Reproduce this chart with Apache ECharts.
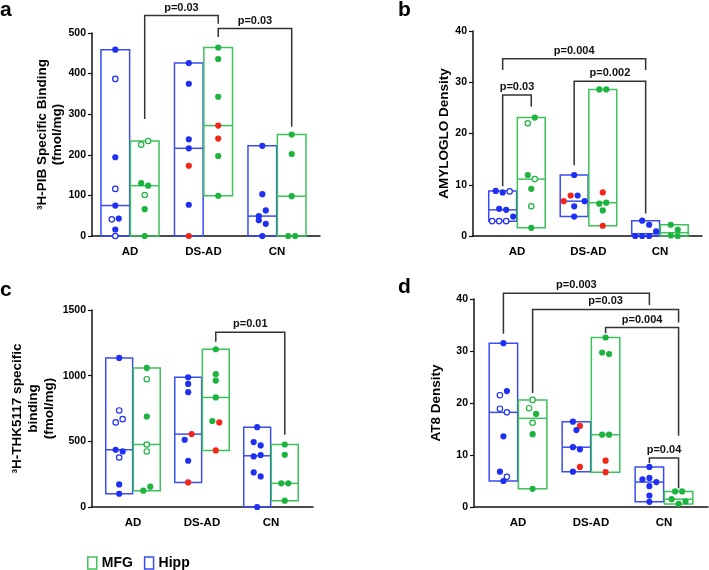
<!DOCTYPE html>
<html><head><meta charset="utf-8">
<script src="https://cdn.jsdelivr.net/npm/echarts@6/dist/echarts.min.js"></script>
<style>html,body{margin:0;padding:0;background:#fff}#c{width:709px;height:570px}</style>
</head><body><div id="c"></div><script>
// ---------- DATA ----------
const groups = ['AD', 'DS-AD', 'CN'];
// kinds: f = filled, o = open circle, r = red (filled)
// Panel a: 3H-PIB specific binding (fmol/mg)
const pibHipp = [[459,387,194,116,75,41,43,16,0],[426,375,238,216,173,77,0],[222,103,49,63,39,30,0]];
const pibHippKind = ['fofofoffo','ffffrfr','fffffff'];
const pibMfg = [[225,234,130,124,101,66,0],[464,436,343,272,240,197,99],[250,202,98,0,0]];
const pibMfgKind = ['ooffoff','fffrrff','fffff'];
// Panel b: AMYLOGLO density
const amyHipp = [[8.8,8.5,8.7,5.3,5.1,2.9,2.9,2.9,3.8],[11.9,6.8,7.9,7.9,6.8,5.8,3.8],[3.0,2.2,0,0,0,0.9]];
const amyHippKind = ['ffoffooof','frrffff','ffffff'];
const amyMfg = [[22.0,23.1,11.9,11.1,9.2,5.8,1.6],[28.6,28.6,8.5,6.3,6.5,5.0,2.0],[2.2,1.2,0.1,0]];
const amyMfgKind = ['offofof','ffrfffr','ffff'];
// Panel c: 3H-THK5117 specific binding (fmol/mg)
const thkHipp = [[1135,735,644,669,436,423,377,172,101],[988,937,874,512,555,352,187],[608,494,469,385,395,263,233,0]];
const thkHippKind = ['foooffoff','ffffrfr','ffffffff'];
const thkMfg = [[1059,973,689,476,423,124,155],[1201,1011,963,834,654,644,431],[476,398,180,180,48]];
const thkMfgKind = ['fofooff','fffffrr','fffff'];
// Panel d: AT8 density
const at8Hipp = [[31.5,21.5,22.3,18.9,18.2,13.6,6.8,5.8,5.0],[16.4,15.6,14.8,11.5,11.1,6.8,7.7],[7.7,5.3,5.6,4.8,4.0,2.2,1.0]];
const at8HippKind = ['fofooffof','frffffr','fffffff'];
const at8Mfg = [[20.6,19.0,17.9,16.2,14.0,3.5],[32.6,29.7,29.4,13.9,13.9,8.9,6.7],[3.0,3.0,1.5,0.6,1.1]];
const at8MfgKind = ['oofoff','fffffrr','fffff'];
// significance brackets: [group1, region1, group2, region2, level, leg1 end, leg2 end, label]
const pibBrackets = [[0,'MFG',1,'MFG',543,288,523,'p=0.03'],[1,'MFG',2,'MFG',511,490,269,'p=0.03']];
const amyBrackets = [[0,'Hipp',0,'MFG',27.5,9.7,25.2,'p=0.03'],[0,'Hipp',2,'Hipp',34.6,32.4,32.4,'p=0.004'],[1,'Hipp',2,'Hipp',30.2,13.8,4.4,'p=0.002']];
const thkBrackets = [[1,'MFG',2,'MFG',1330,1259,550,'p=0.01']];
const at8Brackets = [[0,'Hipp',2,'Hipp',41.1,33.3,38.8,'p=0.003'],[0,'MFG',2,'MFG',38.0,21.9,35.5,'p=0.03'],[1,'MFG',2,'MFG',34.5,33.4,13.7,'p=0.004'],[2,'Hipp',2,'MFG',9.4,8.45,3.6,'p=0.04']];
const yTicksMax = [500, 40, 1500, 40];
const yTicksStep = [100, 10, 500, 10];
const yNames = ['\u00B3H-PIB Specific Binding\n(fmol/mg)', 'AMYLOGLO Density', '\u00B3H-THK5117 specific\nbinding\n(fmol/mg)', 'AT8 Density'];
const letters = ['a','b','c','d'];
const legendNames = ['MFG','Hipp'];

// ---------- STYLE / LAYOUT ----------
const FONT = "'Liberation Sans', Arial, Helvetica, sans-serif";
const PT = {Hipp:'#1f30f2', MFG:'#1cb43e'};
const RED = '#f3261c';
const BOX = {Hipp:'#3a4df0', MFG:'#3cc25a'};
const OFF = {Hipp:-0.2, MFG:0.2};
const HALF = 0.195;
const R = 3.1;

const layout = [
  {grid:{left:92, top:33, width:228, height:203}, xr:[-0.517,2.585], nameGap:26, lh:15, letter:[0,0]},
  {grid:{left:473, top:31, width:229, height:205}, xr:[-0.615,2.588], nameGap:18, lh:15, letter:[398,0]},
  {grid:{left:92, top:310, width:221, height:197}, xr:[-0.594,2.609], nameGap:35, lh:16, letter:[0,280]},
  {grid:{left:474, top:299, width:234, height:208}, xr:[-0.603,2.603], nameGap:30, lh:15, letter:[398,277]}
];
const panelData = [
  {Hipp:[pibHipp,pibHippKind], MFG:[pibMfg,pibMfgKind], br:pibBrackets},
  {Hipp:[amyHipp,amyHippKind], MFG:[amyMfg,amyMfgKind], br:amyBrackets},
  {Hipp:[thkHipp,thkHippKind], MFG:[thkMfg,thkMfgKind], br:thkBrackets},
  {Hipp:[at8Hipp,at8HippKind], MFG:[at8Mfg,at8MfgKind], br:at8Brackets}
];

function median(a){const s=[...a].sort((x,y)=>x-y);const n=s.length;return n%2?s[(n-1)/2]:(s[n/2-1]+s[n/2])/2;}
// deterministic row-based point spreading (pixel space)
function swarm(ys){
  const idx = ys.map((y,i)=>i).sort((a,b)=>ys[a]-ys[b]||a-b);
  const off = new Array(ys.length).fill(0);
  let row=[], rowY=null;
  const flush=()=>{row.sort((a,b)=>a-b);const n=row.length;row.forEach((i,k)=>{off[i]=(k-(n-1)/2)*2.25*R;});row=[];};
  idx.forEach(i=>{ if(rowY===null || ys[i]-rowY>6){flush(); rowY=ys[i];} row.push(i); });
  flush();
  return off;
}

function boxSeries(pi, region){
  const [vals, kinds] = panelData[pi][region];
  return {
    type:'custom', name:region, xAxisIndex:pi, yAxisIndex:pi, clip:false, silent:true,
    itemStyle:{color:BOX[region]},
    z: region==='Hipp'?3:4,
    data: groups.map((g,i)=>[i, median(vals[i])]),
    renderItem:(params, api)=>{
      const gi = api.value(0); const v = vals[gi]; const k = kinds[gi];
      const xc = gi+OFF[region];
      const cx = api.coord([xc,0])[0];
      const xl = api.coord([xc-HALF,0])[0], xrr = api.coord([xc+HALF,0])[0];
      const yTop = api.coord([0,Math.max(...v)])[1], yBot = api.coord([0,Math.min(...v)])[1];
      const yMed = api.coord([0,median(v)])[1];
      const ys = v.map(x=>api.coord([0,x])[1]);
      const offs = swarm(ys);
      const children = [
        {type:'rect', shape:{x:xl, y:yTop, width:xrr-xl, height:yBot-yTop}, style:{fill:'none', stroke:BOX[region], lineWidth:1.5}},
        {type:'line', shape:{x1:xl, y1:yMed, x2:xrr, y2:yMed}, style:{stroke:BOX[region], lineWidth:1.5}}
      ];
      v.forEach((x,i)=>{
        const kind = k[i]; const col = kind==='r'?RED:PT[region];
        children.push({type:'circle', shape:{cx:cx+offs[i], cy:ys[i], r:kind==='o'?2.7:R},
          style: kind==='o'?{fill:'#fff', stroke:col, lineWidth:1.2}:{fill:col}});
      });
      return {type:'group', children};
    }
  };
}
function bracketSeries(pi){
  const br = panelData[pi].br;
  return {
    type:'custom', xAxisIndex:pi, yAxisIndex:pi, clip:false, silent:true, z:5,
    data: br.map((b,i)=>[i, b[4]]),
    renderItem:(params, api)=>{
      const b = br[api.value(0)];
      const x1 = api.coord([b[0]+OFF[b[1]],0])[0], x2 = api.coord([b[2]+OFF[b[3]],0])[0];
      const yl = api.coord([0,b[4]])[1], y1 = api.coord([0,b[5]])[1], y2 = api.coord([0,b[6]])[1];
      return {type:'group', children:[
        {type:'polyline', shape:{points:[[x1,y1],[x1,yl],[x2,yl],[x2,y2]]}, style:{fill:'none', stroke:'#333', lineWidth:1.5}},
        {type:'text', style:{text:b[7], x:(x1+x2)/2, y:yl-2.5, align:'center', verticalAlign:'bottom',
          fontSize:11, fontWeight:'bold', fontFamily:FONT, fill:'#111'}}
      ]};
    }
  };
}

const grids=[], xAxes=[], yAxes=[], series=[], graphics=[];
layout.forEach((L,pi)=>{
  grids.push(Object.assign({containLabel:false}, L.grid));
  xAxes.push({type:'value', gridIndex:pi, min:L.xr[0], max:L.xr[1],
    axisLine:{show:true, onZero:false, lineStyle:{color:'#111', width:1.5}},
    axisTick:{show:false}, splitLine:{show:false},
    axisLabel:{customValues:[0,1,2], formatter:(v)=>groups[Math.round(v)], margin:10,
      color:'#000', fontWeight:'bold', fontSize:11.5, fontFamily:FONT}});
  yAxes.push({type:'value', gridIndex:pi, min:0, max:yTicksMax[pi], interval:yTicksStep[pi],
    axisLine:{show:true, onZero:false, lineStyle:{color:'#111', width:1.5}},
    axisTick:{show:true, length:4, lineStyle:{color:'#111', width:1.2}},
    splitLine:{show:false},
    axisLabel:{margin:6, color:'#000', fontWeight:'bold', fontSize:10.5, fontFamily:FONT, formatter:(v)=>String(v)},
    name:yNames[pi], nameLocation:'middle', nameGap:L.nameGap, nameRotate:90,
    nameTextStyle:{color:'#000', fontWeight:'bold', fontSize:13.5, lineHeight:L.lh, fontFamily:FONT}});
  series.push(boxSeries(pi,'Hipp'), boxSeries(pi,'MFG'), bracketSeries(pi));
  graphics.push({type:'text', x:L.letter[0], y:L.letter[1],
    style:{text:letters[pi], fontSize:21, fontWeight:'bold', fontFamily:FONT, fill:'#000'}});
});

const chart = echarts.init(document.getElementById('c'), null, {renderer:'canvas'});
chart.setOption({
  animation:false, backgroundColor:'#fff',
  grid:grids, xAxis:xAxes, yAxis:yAxes, series, graphic:graphics,
  legend:{left:87, top:556, padding:0, itemWidth:9, itemHeight:12, itemGap:11, selectedMode:false,
    textStyle:{color:'#000', fontWeight:'bold', fontSize:14, fontFamily:FONT},
    data: legendNames.map(n=>({name:n, icon:'rect', itemStyle:{color:'#fff', borderColor:BOX[n], borderWidth:1.5}}))}
});
</script></body></html>
